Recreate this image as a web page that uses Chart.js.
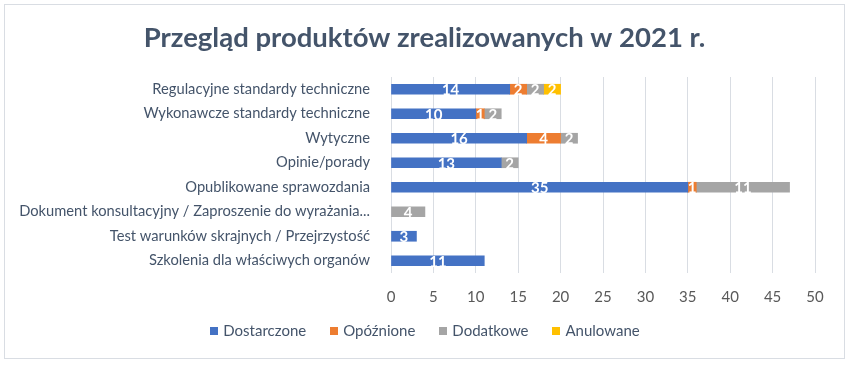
<!DOCTYPE html>
<html>
<head>
<meta charset="utf-8">
<script src="https://cdn.jsdelivr.net/npm/chart.js@4"></script>
<style>
    body { margin: 0; background: #fff; }
    #wrap { width: 849px; height: 365px; }
</style>
</head>
<body>
<div id="wrap"><canvas id="productsChart" width="849" height="365"></canvas></div>
<script>
const categories = [
    'Regulacyjne standardy techniczne',
    'Wykonawcze standardy techniczne',
    'Wytyczne',
    'Opinie/porady',
    'Opublikowane sprawozdania',
    'Dokument konsultacyjny / Zaproszenie do wyrażania...',
    'Test warunków skrajnych / Przejrzystość',
    'Szkolenia dla właściwych organów'
];
const delivered = [14, 10, 16, 13, 35, 0, 3, 11];
const delayed = [2, 1, 4, 0, 1, 0, 0, 0];
const additional = [2, 2, 2, 2, 11, 4, 0, 0];
const cancelled = [2, 0, 0, 0, 0, 0, 0, 0];
const xTicks = [0, 5, 10, 15, 20, 25, 30, 35, 40, 45, 50];
const chartTitle = 'Przegląd produktów zrealizowanych w 2021 r.';

const FONT = 'Lato, "Liberation Sans", sans-serif';

// zero segments are not drawn at all
const noZero = arr => arr.map(v => (v === 0 ? null : v));

// white numbers in the middle of each segment
const barLabels = {
    id: 'barLabels',
    afterDatasetsDraw(chart) {
        const ctx = chart.ctx;
        ctx.save();
        ctx.fillStyle = '#ffffff';
        ctx.font = 'bold 15px ' + FONT;
        ctx.textAlign = 'center';
        ctx.textBaseline = 'middle';
        chart.data.datasets.forEach((ds, i) => {
            const meta = chart.getDatasetMeta(i);
            meta.data.forEach((bar, j) => {
                const v = ds.data[j];
                if (!v) return;
                ctx.fillText(String(v), (bar.x + bar.base) / 2, bar.y + 1);
            });
        });
        ctx.restore();
    }
};

// border, title and legend, all centred on the whole frame
const frame = {
    id: 'frame',
    beforeDraw(chart) {
        const ctx = chart.ctx;
        ctx.save();
        ctx.fillStyle = '#fff';
        ctx.fillRect(0, 0, chart.width, chart.height);
        ctx.strokeStyle = '#d9dde3';
        ctx.lineWidth = 1;
        ctx.strokeRect(4.5, 4.5, 840, 354);
        ctx.fillStyle = '#44546A';
        ctx.font = 'bold 27.5px ' + FONT;
        ctx.textAlign = 'center';
        ctx.textBaseline = 'middle';
        ctx.fillText(chartTitle, 424.5, 38);
        ctx.restore();
    },
    afterDraw(chart) {
        const ctx = chart.ctx;
        ctx.save();
        ctx.font = '15px ' + FONT;
        ctx.textBaseline = 'middle';
        ctx.textAlign = 'left';
        const box = 8, boxGap = 5, itemGap = 24, y = 331;
        const items = chart.data.datasets.map(ds => ({
            text: ds.label,
            color: ds.backgroundColor,
            w: box + boxGap + ctx.measureText(ds.label).width
        }));
        const total = items.reduce((s, it) => s + it.w, 0) + itemGap * (items.length - 1);
        let x = 425 - total / 2;
        items.forEach(it => {
            ctx.fillStyle = it.color;
            ctx.fillRect(Math.round(x), y - 4, box, box);
            ctx.fillStyle = '#44546A';
            ctx.fillText(it.text, x + box + boxGap, y);
            x += it.w + itemGap;
        });
        ctx.restore();
    }
};

new Chart(document.getElementById('productsChart').getContext('2d'), {
    type: 'bar',
    data: {
        labels: categories,
        datasets: [
            { label: 'Dostarczone', data: noZero(delivered), backgroundColor: '#4472C4' },
            { label: 'Opóźnione', data: noZero(delayed), backgroundColor: '#ED7D31' },
            { label: 'Dodatkowe', data: noZero(additional), backgroundColor: '#A5A5A5' },
            { label: 'Anulowane', data: noZero(cancelled), backgroundColor: '#FFC000' }
        ]
    },
    options: {
        indexAxis: 'y',
        responsive: false,
        animation: false,
        layout: { padding: { left: 10, right: 34, top: 77, bottom: 44 } },
        datasets: { bar: { barThickness: 10 } },
        scales: {
            x: {
                stacked: true,
                min: 0,
                max: 50,
                afterBuildTicks(scale) {
                    scale.ticks = xTicks.map(v => ({ value: v }));
                },
                grid: { color: '#d9dde3', drawTicks: false },
                border: { display: false },
                ticks: { color: '#595959', font: { family: FONT, size: 15 }, padding: 15 }
            },
            y: {
                stacked: true,
                grid: { display: false },
                border: { display: false },
                afterFit(scale) { scale.width = 381; },
                ticks: { color: '#44546A', font: { family: FONT, size: 14.7 }, padding: 13, autoSkip: false }
            }
        },
        plugins: {
            title: { display: false },
            legend: { display: false },
            tooltip: { enabled: false }
        }
    },
    plugins: [frame, barLabels]
});
</script>
</body>
</html>
